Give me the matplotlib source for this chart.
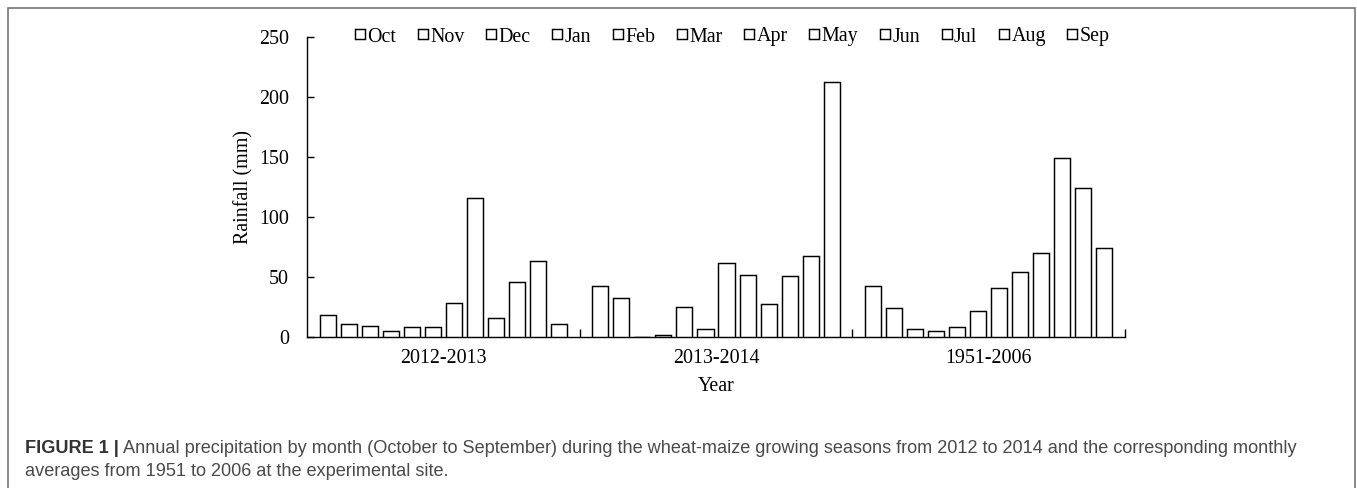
import matplotlib
matplotlib.use("Agg")
import matplotlib.pyplot as plt
import numpy as np
from matplotlib.patches import Rectangle

months = ["Oct", "Nov", "Dec", "Jan", "Feb", "Mar", "Apr", "May", "Jun", "Jul", "Aug", "Sep"]
periods = ["2012-2013", "2013-2014", "1951-2006"]
rain_2012_2013 = [18, 10.6, 9.2, 5, 7.8, 7.8, 28.4, 115.9, 15.3, 45.3, 63.4, 10.6]
rain_2013_2014 = [42.5, 32.5, 0, 1.4, 25, 6.4, 61.7, 51.4, 27.3, 50.6, 67.3, 212]
rain_1951_2006 = [42.5, 23.6, 6.4, 5, 7.8, 21.7, 40.3, 54.2, 69.5, 148.6, 123.6, 73.6]
yticks = [0, 50, 100, 150, 200, 250]

W, H, DPI = 1357, 488, 100
fig = plt.figure(figsize=(W / DPI, H / DPI), dpi=DPI)
serif = "Liberation Serif"
fs = 14.4

ax_l, ax_r, ax_b, ax_t = 307, 1125, 336.7, 36.7
ax = fig.add_axes([ax_l / W, 1 - ax_b / H, (ax_r - ax_l) / W, (ax_b - ax_t) / H])

series = np.array([rain_2012_2013, rain_2013_2014, rain_1951_2006])
x = np.arange(len(periods))
pitch = 0.0771
bw = 0.0588
handles = []
for i, m in enumerate(months):
    bars = ax.bar(x + (i - 5.5) * pitch, series[:, i], width=bw, color="white",
                  edgecolor="black", linewidth=1.05, label=m, zorder=3)
    handles.append(bars)

ax.set_xlim(-0.5, 2.5)
ax.set_ylim(0, 250)
ax.set_yticks(yticks)
ax.set_xticks(x)
ax.set_xticklabels(periods, fontfamily=serif, fontsize=fs)
ax.set_xticks([0.5, 1.5, 2.5], minor=True)
ax.tick_params(axis="x", which="major", length=0, pad=9)
ax.tick_params(axis="x", which="minor", direction="in", length=6, width=1.0)
ax.tick_params(axis="y", direction="in", length=5, width=1.0, pad=13, labelsize=fs)
for lab in ax.get_yticklabels():
    lab.set_fontfamily(serif)
for s in ["top", "right"]:
    ax.spines[s].set_visible(False)
for s in ["left", "bottom"]:
    ax.spines[s].set_linewidth(1.0)

ax.set_ylabel("Rainfall (mm)", fontfamily=serif, fontsize=fs)
ax.yaxis.set_label_coords((253 - ax_l) / (ax_r - ax_l), 0.5)
ax.set_xlabel("Year", fontfamily=serif, fontsize=fs)
ax.xaxis.set_label_coords(0.5, -(377 - ax_b) / (ax_b - ax_t))

leg = fig.legend(handles=handles, labels=months, ncol=12, loc="center",
                 bbox_to_anchor=(732.5 / W, 1 - 37 / H), frameon=False,
                 prop={"family": serif, "size": fs}, handlelength=0.5,
                 handleheight=0.4, handletextpad=0.12, columnspacing=1.08,
                 borderpad=0, borderaxespad=0)

# outer frame
fig.patches.append(Rectangle((7.5 / W, -0.1), (1355 - 7.5) / W, 1.1 - 8.5 / H,
                             transform=fig.transFigure, fill=False,
                             edgecolor="#6a6a6a", linewidth=1.1, clip_on=False))

# caption
cap_fs = 13.05
cx = 25 / W
t1 = fig.text(cx, 1 - 453 / H, "FIGURE 1 |", fontfamily="Liberation Sans",
              fontweight="bold", fontsize=cap_fs, color="#333333", va="baseline")
fig.canvas.draw()
r = fig.canvas.get_renderer()
bb = t1.get_window_extent(r)
fig.text((bb.x1 + 4) / W, 1 - 453 / H,
         "Annual precipitation by month (October to September) during the wheat-maize growing seasons from 2012 to 2014 and the corresponding monthly",
         fontfamily="Liberation Sans", fontsize=cap_fs, color="#4a4a4a", va="baseline")
fig.text(cx, 1 - 476 / H, "averages from 1951 to 2006 at the experimental site.",
         fontfamily="Liberation Sans", fontsize=cap_fs, color="#4a4a4a", va="baseline")

fig.savefig("out.png", dpi=DPI)
